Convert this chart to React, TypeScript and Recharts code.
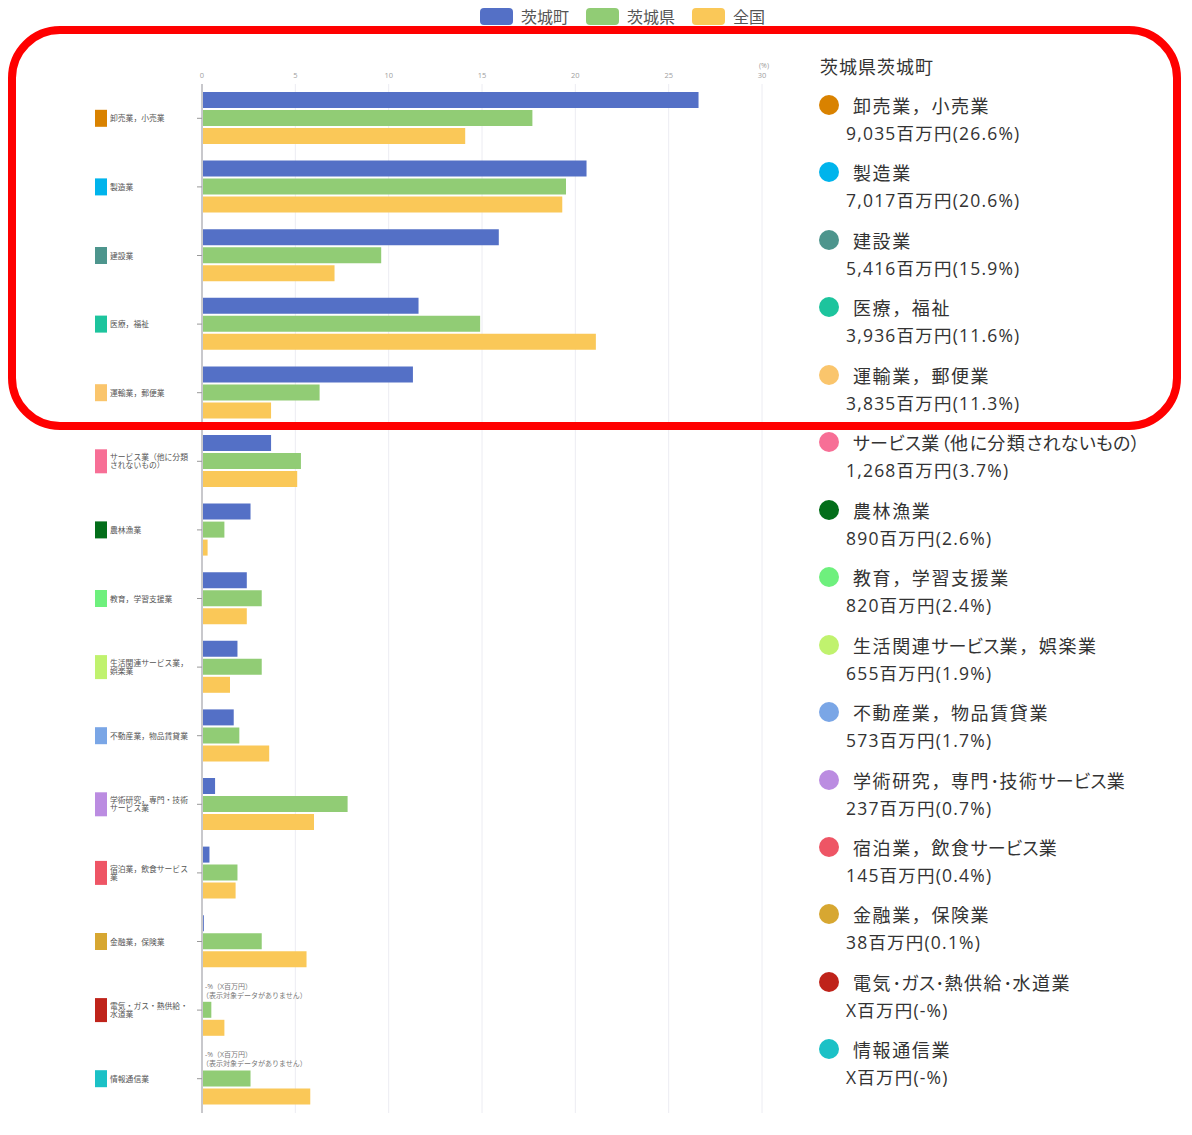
import React from 'react';
import { BarChart, Bar, XAxis, YAxis, CartesianGrid } from 'recharts';

const categories = [
  '卸売業，小売業', '製造業', '建設業', '医療，福祉', '運輸業，郵便業',
  'サービス業（他に分類されないもの）', '農林漁業', '教育，学習支援業',
  '生活関連サービス業，娯楽業', '不動産業，物品賃貸業', '学術研究，専門・技術サービス業',
  '宿泊業，飲食サービス業', '金融業，保険業', '電気・ガス・熱供給・水道業', '情報通信業',
];

const axisLabelLines = [
  ['卸売業，小売業'], ['製造業'], ['建設業'], ['医療，福祉'], ['運輸業，郵便業'],
  ['サービス業（他に分類', 'されないもの）'], ['農林漁業'], ['教育，学習支援業'],
  ['生活関連サービス業，', '娯楽業'], ['不動産業，物品賃貸業'], ['学術研究，専門・技術', 'サービス業'],
  ['宿泊業，飲食サービス', '業'], ['金融業，保険業'], ['電気・ガス・熱供給・', '水道業'], ['情報通信業'],
];

const industryColors = [
  '#d98200', '#00b4ec', '#4d958d', '#1dc49d', '#fac56c', '#f76f96', '#036e1a', '#6ef07d',
  '#c0f26e', '#7aa6e6', '#bb8ce1', '#ee5565', '#d7a731', '#bf231a', '#1bc1c6',
];

const townValues = [26.6, 20.6, 15.9, 11.6, 11.3, 3.7, 2.6, 2.4, 1.9, 1.7, 0.7, 0.4, 0.1, null, null];
const prefValues = [17.7, 19.5, 9.6, 14.9, 6.3, 5.3, 1.2, 3.2, 3.2, 2.0, 7.8, 1.9, 3.2, 0.5, 2.6];
const nationValues = [14.1, 19.3, 7.1, 21.1, 3.7, 5.1, 0.3, 2.4, 1.5, 3.6, 6.0, 1.8, 5.6, 1.2, 5.8];

const amountTexts = [
  '9,035百万円(26.6%)', '7,017百万円(20.6%)', '5,416百万円(15.9%)', '3,936百万円(11.6%)',
  '3,835百万円(11.3%)', '1,268百万円(3.7%)', '890百万円(2.6%)', '820百万円(2.4%)',
  '655百万円(1.9%)', '573百万円(1.7%)', '237百万円(0.7%)', '145百万円(0.4%)',
  '38百万円(0.1%)', 'X百万円(-%)', 'X百万円(-%)',
];

const xTicks = [0, 5, 10, 15, 20, 25, 30];
const seriesNames = ['茨城町', '茨城県', '全国'];
const seriesColors = ['#5470c6', '#91cc75', '#fac858'];
const regionTitle = '茨城県茨城町';
const noDataLines = ['-%（X百万円）', '（表示対象データがありません）'];

const data = categories.map((c, i) => ({
  name: c,
  town: townValues[i],
  pref: prefValues[i],
  nation: nationValues[i],
}));

const FONT = "'Open Sans', 'Noto Sans CJK JP', sans-serif";
const CJK = "'Noto Sans CJK JP', sans-serif";

// split a label into runs so kana / brackets can use proportional widths
const splitRuns = (s: string) => {
  const runs: { t: string; p: boolean }[] = [];
  for (const ch of s) {
    const p = /[\u3040-\u30ff（）･]/.test(ch);
    const last = runs[runs.length - 1];
    if (last && last.p === p) last.t += ch;
    else runs.push({ t: ch, p });
  }
  return runs;
};

const YTick = (props: any) => {
  const { x, y, payload, index } = props;
  const idx = typeof index === 'number' ? index : categories.indexOf(payload.value);
  const lines = axisLabelLines[idx] || [payload.value];
  const two = lines.length > 1;
  const sqH = two ? 24 : 17;
  const axisX = x + 5;
  return (
    <g>
      <rect x={x - 102} y={y - sqH / 2} width={12} height={sqH} fill={industryColors[idx]} />
      {lines.map((l: string, k: number) => (
        <text
          key={k}
          x={x - 87}
          y={two ? y - 4 + k * 8 : y}
          fontSize={7.8}
          fill="#555"
          dominantBaseline="central"
        >
          {l}
        </text>
      ))}
      {townValues[idx] === null && (
        <g>
          <text x={axisX + 3} y={y - 24} fontSize={7} fill="#777" dominantBaseline="central">{noDataLines[0]}</text>
          <text x={axisX} y={y - 15} fontSize={7} fill="#777" dominantBaseline="central">{noDataLines[1]}</text>
        </g>
      )}
    </g>
  );
};

export default function App() {
  return (
    <div style={{ position: 'absolute', left: 0, top: 0, width: 1192, height: 1135, background: '#fff', fontFamily: FONT, overflow: 'hidden' }}>
      {/* top legend */}
      <div style={{ position: 'absolute', left: 480, top: 8, display: 'flex', alignItems: 'center', height: 17 }}>
        {seriesNames.map((n, i) => (
          <div key={n} style={{ display: 'flex', alignItems: 'center', marginRight: 17 }}>
            <div style={{ width: 33, height: 17, borderRadius: 4, background: seriesColors[i], marginRight: 8 }} />
            <span style={{ fontSize: 16, color: '#555', lineHeight: '17px', fontFamily: CJK }}>{n}</span>
          </div>
        ))}
      </div>

      <div style={{ position: 'absolute', left: 0, top: 0 }}>
        <BarChart
          width={800}
          height={1135}
          data={data}
          layout="vertical"
          margin={{ top: 64, right: 38, left: 0, bottom: 22 }}
          barSize={16}
          barGap={2}
          style={{ fontFamily: FONT }}
        >
          <CartesianGrid horizontal={false} vertical={true} stroke="#ececf2" strokeWidth={1} />
          <XAxis
            type="number"
            orientation="top"
            domain={[0, 30]}
            ticks={xTicks}
            axisLine={false}
            tickLine={false}
            tickSize={0}
            tickMargin={6}
            height={20}
            tick={{ fontSize: 7.5, fill: '#a0a0a0' }}
            interval={0}
          />
          <YAxis
            type="category"
            dataKey="name"
            width={202}
            axisLine={{ stroke: '#c8c8cc', strokeWidth: 2 }}
            tickLine={{ stroke: '#999' }}
            tickSize={5}
            tickMargin={0}
            tick={<YTick />}
            interval={0}
          />
          <Bar dataKey="town" name={seriesNames[0]} fill={seriesColors[0]} isAnimationActive={false} />
          <Bar dataKey="pref" name={seriesNames[1]} fill={seriesColors[1]} isAnimationActive={false} />
          <Bar dataKey="nation" name={seriesNames[2]} fill={seriesColors[2]} isAnimationActive={false} />
        </BarChart>
      </div>

      <div style={{ position: 'absolute', left: 752, top: 61, fontSize: 7, color: '#999', width: 24, textAlign: 'center' }}>(%)</div>

      {/* right legend */}
      <div style={{ position: 'absolute', left: 820, top: 54, fontSize: 18, color: '#333', lineHeight: '24px', letterSpacing: 1, fontFamily: CJK }}>
        {regionTitle}
      </div>
      {categories.map((c, i) => (
        <div key={c} style={{ position: 'absolute', left: 819, top: 93 + i * 67.45, width: 370 }}>
          <div style={{ display: 'flex', alignItems: 'center', height: 24 }}>
            <div style={{ width: 20, height: 20, borderRadius: 10, background: industryColors[i], marginRight: 14, flex: 'none' }} />
            <span style={{ fontSize: 18, color: '#333', letterSpacing: 1.6, whiteSpace: 'nowrap', fontFamily: CJK }}>
              {splitRuns(c.replace(/・/g, '･')).map((r, k) => (
                <span key={k} style={r.p ? { fontFeatureSettings: '"palt"', letterSpacing: 0.2 } : undefined}>{r.t}</span>
              ))}
            </span>
          </div>
          <div style={{ marginLeft: 27, marginTop: 4, fontSize: 17.5, color: '#333', lineHeight: '24px', letterSpacing: 1.2, whiteSpace: 'nowrap' }}>
            {amountTexts[i]}
          </div>
        </div>
      ))}

      {/* red highlight frame */}
      <div style={{ position: 'absolute', left: 8, top: 26, width: 1173, height: 404, border: '8px solid #ff0000', borderRadius: 52, boxSizing: 'border-box', pointerEvents: 'none' }} />
    </div>
  );
}
